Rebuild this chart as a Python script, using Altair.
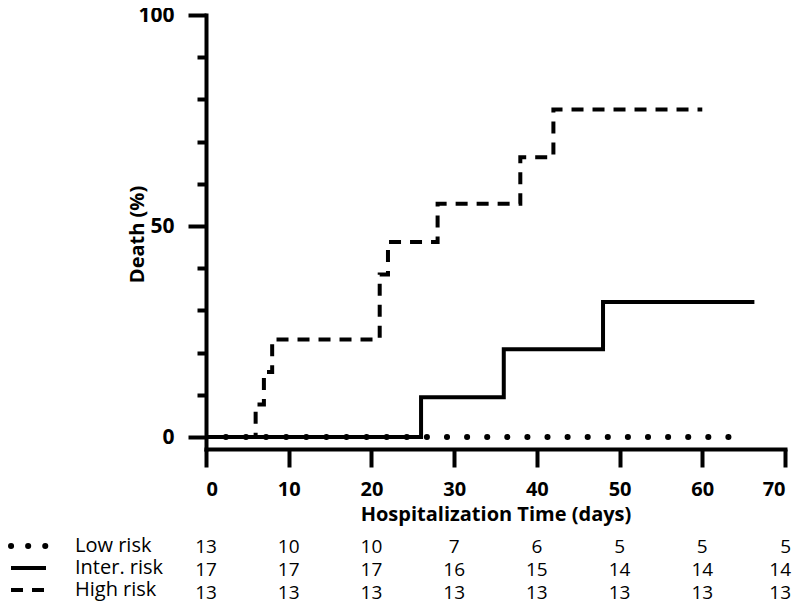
import altair as alt
import pandas as pd

# ---- curves (time in days, cumulative death %) ----
high_t = [0, 6, 7, 8, 21, 22, 28, 38, 42, 60]
high_v = [0, 7.7, 15.4, 23.1, 38.5, 46.2, 55.3, 66.3, 77.6, 77.6]
inter_t = [0, 26, 36, 48, 66.3]
inter_v = [0, 9.4, 20.8, 32.0, 32.0]
low_t = [2.4, 65]
low_v = [0, 0]

# ---- number-at-risk table ----
table_times = [0, 10, 20, 30, 40, 50, 60, 70]
low_n = [13, 10, 10, 7, 6, 5, 5, 5]
inter_n = [17, 17, 17, 16, 15, 14, 14, 14]
high_n = [13, 13, 13, 13, 13, 13, 13, 13]
group_labels = ["Low risk", "Inter. risk", "High risk"]

FONT = "Open Sans"

high_df = pd.DataFrame({"t": high_t, "v": high_v})
inter_df = pd.DataFrame({"t": inter_t, "v": inter_v})
low_df = pd.DataFrame({"t": low_t, "v": low_v})

xscale = alt.Scale(domain=[0, 70], nice=False, zero=False)
yscale = alt.Scale(domain=[-2.84, 100], nice=False, zero=False)

xaxis = alt.Axis(
    values=table_times, title="Hospitalization Time (days)", grid=False,
    tickSize=18, tickWidth=4, domainWidth=4, domainColor="black", tickColor="black",
    domainCap="square", labelFont=FONT, labelFontSize=20, labelFontWeight="bold",
    labelColor="black", labelPadding=12, titleFont=FONT, titleFontSize=20,
    titleFontWeight="bold", titleColor="black", titleY=55,
)
yaxis = alt.Axis(
    values=list(range(0, 101, 5)), title="Death (%)", grid=False,
    tickSize={"condition": {"test": "datum.value % 50 === 0", "value": 18}, "value": 9},
    tickWidth=4, domainWidth=4, domainColor="black", tickColor="black",
    domainCap="square",
    labelExpr="datum.value % 50 === 0 ? datum.label : ''",
    labelFont=FONT, labelFontSize=21, labelFontWeight="bold", labelColor="black",
    labelPadding=14, titleFont=FONT, titleFontSize=20, titleFontWeight="bold",
    titleColor="black", titleX=-69, titleY=219, titleAngle=270,
    titleAlign="center", titleBaseline="middle",
)

high = alt.Chart(high_df).mark_line(
    interpolate="step-after", color="black", strokeWidth=4, strokeDash=[12, 9]
).encode(
    x=alt.X("t:Q", scale=xscale, axis=xaxis),
    y=alt.Y("v:Q", scale=yscale, axis=yaxis),
)
inter = alt.Chart(inter_df).mark_line(
    interpolate="step-after", color="black", strokeWidth=4
).encode(x=alt.X("t:Q", scale=xscale), y=alt.Y("v:Q", scale=yscale))
low = alt.Chart(low_df).mark_line(
    color="black", strokeWidth=6, strokeDash=[0.1, 20], strokeCap="round"
).encode(x=alt.X("t:Q", scale=xscale), y=alt.Y("v:Q", scale=yscale))

num_rows_y = [532, 555, 578]
lab_rows_y = [531, 553, 575]
layers = [high, inter, low]
for counts, ny in zip([low_n, inter_n, high_n], num_rows_y):
    df = pd.DataFrame({"t": table_times, "n": counts})
    inner = df[df["t"] < 70]
    last = df[df["t"] >= 70]
    layers.append(
        alt.Chart(inner).mark_text(font=FONT, fontSize=19, color="black",
                                   align="center", baseline="middle")
        .encode(x=alt.X("t:Q", scale=xscale), y=alt.value(ny), text="n:Q")
    )
    layers.append(
        alt.Chart(last).mark_text(font=FONT, fontSize=19, color="black",
                                  align="right", baseline="middle", dx=6)
        .encode(x=alt.X("t:Q", scale=xscale), y=alt.value(ny), text="n:Q")
    )

lab_df = pd.DataFrame({"g": group_labels, "yy": lab_rows_y})
layers.append(
    alt.Chart(lab_df).mark_text(font=FONT, fontSize=20, color="black",
                                align="left", baseline="middle")
    .encode(x=alt.value(-131), y=alt.Y("yy:Q", scale=None), text="g:N")
)

sym_styles = [
    dict(strokeWidth=6, strokeDash=[0.1, 17], strokeCap="round"),
    dict(strokeWidth=4),
    dict(strokeWidth=4, strokeDash=[12, 9]),
]
for style, ly in zip(sym_styles, lab_rows_y):
    layers.append(
        alt.Chart(pd.DataFrame({"a": [0]})).mark_rule(color="black", **style)
        .encode(x=alt.value(-195), x2=alt.value(-160), y=alt.value(ly))
    )

chart = alt.layer(*layers).properties(
    width=579, height=434,
    autosize=alt.AutoSizeParams(type="none"),
    padding={"left": 198, "top": 7, "right": 7, "bottom": 154},
).configure_view(stroke=None)

chart.save("out.html", embed_options={"renderer": "svg", "actions": False})
